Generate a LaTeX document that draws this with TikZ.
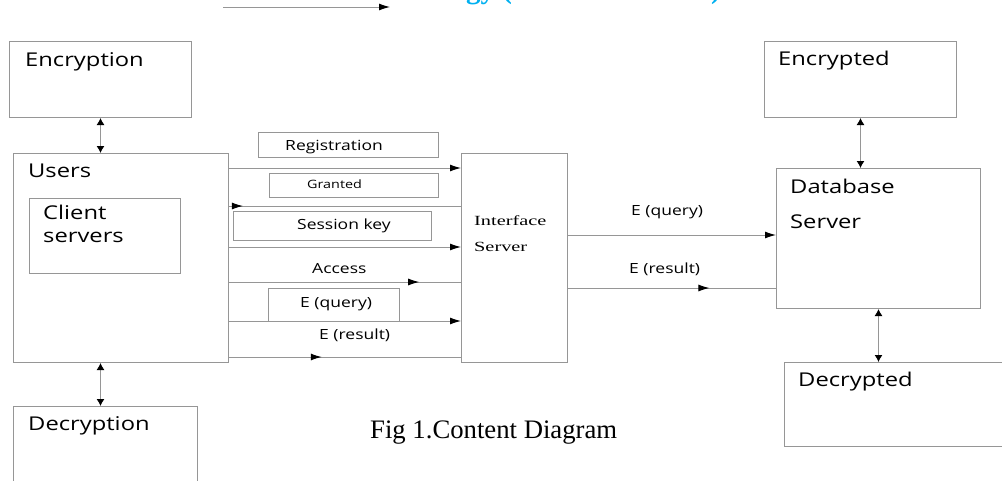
\documentclass[tikz,border=0pt]{standalone}
\usepackage{fontspec}
\usepackage{xcolor}
\definecolor{LineGray}{RGB}{150,150,150}
\definecolor{TitleCyan}{RGB}{0,176,240}
\newfontfamily\boxfont[FakeStretch=1.25]{Open Sans}
\newfontfamily\srvfont[FakeStretch=1.45]{Liberation Serif}
\newfontfamily\capfont{Liberation Serif}
\usepackage{tikz}
\usetikzlibrary{arrows.meta}
\usetikzlibrary{decorations.markings}
\tikzstyle{Box}=[draw=LineGray,line width=1pt,inner sep=0pt,anchor=north west]
\tikzstyle{Edge}=[draw=LineGray,line width=1pt]
\tikzstyle{Big}=[anchor=base west,inner sep=0pt,align=left,
font=\boxfont\fontsize{19}{23}\selectfont]
\tikzstyle{Small}=[anchor=base west,inner sep=0pt,
font=\boxfont\fontsize{14}{17}\selectfont]
\tikzstyle{Head}=[-{Latex[length=11pt,width=7pt,color=black]}]
\tikzstyle{DHead}=[{Latex[length=7pt,width=8pt,color=black]}-{Latex[length=7pt,width=8pt,color=black]}]
\tikzset{MidHead/.style={postaction={decorate},decoration={markings,
    mark=at position #1 with {\arrow{Latex[length=11pt,width=7pt,color=black]}}}}}

\begin{document}
\begin{tikzpicture}[x=1pt,y=-1pt]
    \useasboundingbox (0,0) rectangle (1002,480);
    \begin{scope}
        \clip (0,0) rectangle (1002,480);
        % cut-off heading at the top
        \coordinate(t0)at(223,7);
        \coordinate(t1)at(390,7);
        \draw[Edge,Head](t0)--(t1);
        \node[anchor=base west,inner sep=0pt,text=TitleCyan,
            font=\capfont\bfseries\fontsize{29}{30}\selectfont](hd1)at(466,-1.5){gy (};
        \node[anchor=base west,inner sep=0pt,text=TitleCyan,
            font=\capfont\bfseries\fontsize{29}{30}\selectfont](hd2)at(711,-1.5){)};
        % boxes
        \node[Box,minimum width=182,minimum height=76](enc)at(9,41){};
        \node[Box,minimum width=215,minimum height=209](usr)at(13,153){};
        \node[Box,minimum width=151,minimum height=75](cli)at(29,198){};
        \node[Box,minimum width=184,minimum height=100](dec)at(13,406){};
        \node[Box,minimum width=106,minimum height=209](ifs)at(461,153){};
        \node[Box,minimum width=192,minimum height=76](enct)at(764,41){};
        \node[Box,minimum width=204,minimum height=140](dbs)at(776,168){};
        \node[Box,minimum width=240,minimum height=84](dect)at(784,362){};
        \node[Box,minimum width=180,minimum height=25](reg)at(258,132){};
        \node[Box,minimum width=169,minimum height=24](gra)at(269,173){};
        \node[Box,minimum width=198,minimum height=29](ses)at(233,211){};
        \node[Box,minimum width=131,minimum height=33](qry)at(268,288){};
    \end{scope}
    % texts (two-line nodes sit on the baseline of their last line)
    \node[Big](encL)at(25,66){Encryption};
    \node[Big](usrL)at(28,177){Users};
    \node[Big](cliL)at(43,242){Client\\servers};
    \node[Big](decL)at(28,430){Decryption};
    \node[Big](enctL)at(778,65){Encrypted};
    \node[Big,font=\boxfont\fontsize{19}{35}\selectfont](dbsL)at(790,228){Database\\Server};
    \node[Big](dectL)at(798,386){Decrypted};
    \node[Big,font=\srvfont\fontsize{14}{26}\selectfont](ifsL)at(474,251){Interface\\Server};
    \node[Small](regL)at(285,150){Registration};
    \node[Small,font=\boxfont\fontsize{11.5}{14}\selectfont](graL)at(307,188){Granted};
    \node[Small](sesL)at(297,229){Session key};
    \node[Small](accL)at(312,273){Access};
    \node[Small](qryL)at(300,307){E (query)};
    \node[Small](resL)at(319,339){E (result)};
    \node[Small](qry2L)at(631,215){E (query)};
    \node[Small](res2L)at(629,273){E (result)};
    \node[anchor=base west,inner sep=0pt,
        font=\capfont\fontsize{26.7}{30}\selectfont](cap)at(370,438){Fig 1.Content Diagram};
    % users <-> interface server
    \draw[Edge,Head](usr.east|-0,168)--(ifs.west|-0,168);
    \draw[Edge,MidHead=0.06](usr.east|-0,206)--(ifs.west|-0,206);
    \draw[Edge,Head](usr.east|-0,247)--(ifs.west|-0,247);
    \draw[Edge,MidHead=0.82](usr.east|-0,282)--(ifs.west|-0,282);
    \draw[Edge,Head](usr.east|-0,321)--(ifs.west|-0,321);
    \draw[Edge,MidHead=0.4](usr.east|-0,357)--(ifs.west|-0,357);
    % interface server <-> database server
    \draw[Edge,Head](ifs.east|-0,235)--(dbs.west|-0,235);
    \draw[Edge,MidHead=0.68](ifs.east|-0,288)--(dbs.west|-0,288);
    % vertical links
    \draw[Edge,DHead](enc.south)--(enc.south|-usr.north);
    \draw[Edge,DHead](usr.south-|enc.south)--(dec.north-|enc.south);
    \draw[Edge,DHead](enct.south)--(enct.south|-dbs.north);
    \draw[Edge,DHead](dbs.south)--(dect.north-|dbs.south);
\end{tikzpicture}
\end{document}
